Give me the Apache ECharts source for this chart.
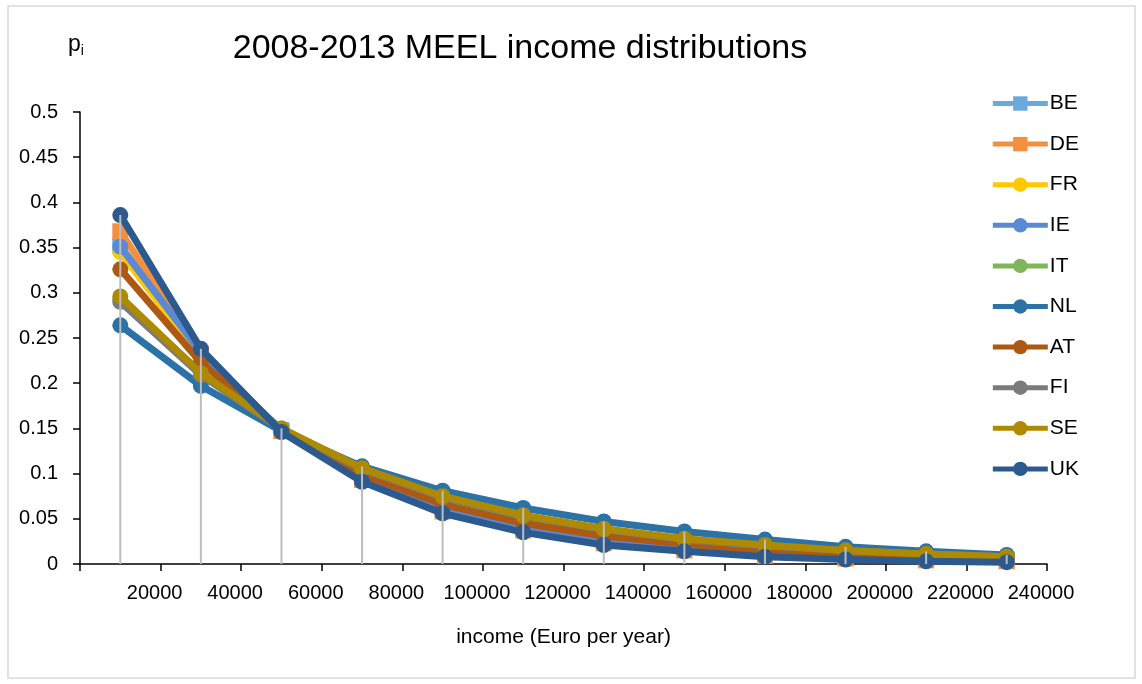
<!DOCTYPE html>
<html>
<head>
<meta charset="utf-8">
<script src="https://cdn.jsdelivr.net/npm/echarts@6/dist/echarts.min.js"></script>
<style>
  html, body { margin: 0; padding: 0; background: #fff; }
  #main { width: 1142px; height: 684px; }
</style>
</head>
<body>
<div id="main"></div>
<script>
// income class midpoints (Euro per year)
var incomes = [10000, 30000, 50000, 70000, 90000, 110000, 130000, 150000, 170000, 190000, 210000, 230000];

var countries = ['BE', 'DE', 'FR', 'IE', 'IT', 'NL', 'AT', 'FI', 'SE', 'UK'];
var colors = ['#6aa9dc', '#f39040', '#ffc800', '#5a8ad4', '#80b65a', '#2b72a6', '#ad5913', '#7b7b7b', '#ae8a00', '#2d5a8e'];
var symbols = ['rect', 'rect', 'circle', 'circle', 'circle', 'circle', 'circle', 'circle', 'circle', 'circle'];

var BE = [0.352, 0.231, 0.148, 0.095, 0.060, 0.039, 0.025, 0.017, 0.011, 0.008, 0.006, 0.004];
var DE = [0.368, 0.232, 0.147, 0.093, 0.058, 0.037, 0.023, 0.015, 0.009, 0.006, 0.004, 0.003];
var FR = [0.345, 0.228, 0.148, 0.096, 0.062, 0.040, 0.027, 0.018, 0.012, 0.008, 0.006, 0.004];
var IE = [0.351, 0.234, 0.148, 0.094, 0.059, 0.038, 0.024, 0.016, 0.010, 0.007, 0.005, 0.003];
var IT = [0.293, 0.212, 0.150, 0.104, 0.073, 0.051, 0.037, 0.027, 0.020, 0.014, 0.010, 0.008];
var NL = [0.264, 0.197, 0.147, 0.108, 0.081, 0.062, 0.047, 0.036, 0.027, 0.019, 0.014, 0.010];
var AT = [0.326, 0.223, 0.149, 0.099, 0.066, 0.045, 0.031, 0.022, 0.015, 0.011, 0.008, 0.006];
var FI = [0.290, 0.209, 0.149, 0.105, 0.074, 0.053, 0.038, 0.027, 0.020, 0.015, 0.011, 0.008];
var SE = [0.296, 0.211, 0.150, 0.106, 0.075, 0.054, 0.039, 0.028, 0.021, 0.015, 0.011, 0.008];
var UK = [0.386, 0.238, 0.146, 0.091, 0.056, 0.035, 0.021, 0.014, 0.008, 0.005, 0.003, 0.002];

var values = [BE, DE, FR, IE, IT, NL, AT, FI, SE, UK];

var font = '"Liberation Sans", Arial, sans-serif';

var series = countries.map(function (c, i) {
    return {
        name: c,
        type: 'line',
        data: incomes.map(function (x, k) { return [x, values[i][k]]; }),
        symbol: symbols[i],
        symbolSize: 16,
        color: colors[i],
        lineStyle: { width: 7, color: colors[i] },
        itemStyle: { color: colors[i] },
        z: 2 + i
    };
});

// drop lines from the highest point of each class down to the axis
var dropTops = incomes.map(function (x, k) {
    var m = 0;
    values.forEach(function (v) { if (v[k] > m) m = v[k]; });
    return [x, m];
});
series.push({
    name: 'drop',
    type: 'bar',
    data: dropTops,
    barWidth: 2,
    itemStyle: { color: '#bdbdbd' },
    silent: true,
    z: 20
});

var myChart = echarts.init(document.getElementById('main'));
var option = {
    animation: false,
    backgroundColor: '#fff',
    textStyle: { fontFamily: font },
    title: [
        {
            text: '2008-2013 MEEL income distributions',
            left: 515, top: 27, textAlign: 'center',
            textStyle: { fontFamily: font, fontSize: 34, fontWeight: 'normal', color: '#000' }
        },
        {
            text: 'p{s|i}',
            left: 63, top: 27,
            textStyle: {
                fontFamily: font, fontSize: 23, fontWeight: 'normal', color: '#000',
                rich: { s: { fontSize: 14, verticalAlign: 'bottom', padding: [12, 0, 0, 0], color: '#000' } }
            }
        }
    ],
    legend: {
        orient: 'vertical',
        right: 58, top: 88,
        data: countries,
        itemWidth: 55, itemHeight: 18,
        itemGap: 19.6,
        lineStyle: { width: 5 },
        textStyle: { fontFamily: font, fontSize: 21, color: '#000', padding: [0, 0, 0, -3] }
    },
    grid: { left: 80, right: 95, top: 112, bottom: 120, containLabel: false },
    xAxis: {
        type: 'value',
        min: 0, max: 240000, interval: 20000,
        name: 'income (Euro per year)',
        nameLocation: 'middle', nameGap: 63,
        nameTextStyle: { fontFamily: font, fontSize: 21, color: '#000' },
        axisLine: { onZero: false, lineStyle: { color: '#000', width: 1.5 } },
        axisTick: { show: true, length: 7, lineStyle: { color: '#000', width: 1.5 } },
        axisLabel: {
            fontFamily: font, fontSize: 20, color: '#000', margin: 19,
            padding: [0, 12, 0, 0],
            formatter: function (v) { return v === 0 ? '' : String(v); }
        },
        splitLine: { show: false }
    },
    yAxis: {
        type: 'value',
        min: 0, max: 0.5, interval: 0.05,
        axisLine: { show: true, lineStyle: { color: '#000', width: 1.5 } },
        axisTick: { show: true, length: 7, lineStyle: { color: '#000', width: 1.5 } },
        axisLabel: {
            fontFamily: font, fontSize: 20, color: '#000', margin: 22,
            formatter: function (v) { return String(Math.round(v * 100) / 100); }
        },
        splitLine: { show: false }
    },
    graphic: [{
        type: 'rect',
        shape: { x: 8, y: 6, width: 1127, height: 672 },
        style: { fill: 'none', stroke: '#d9d9d9', lineWidth: 1.5 },
        silent: true, z: -1
    }],
    series: series
};
myChart.setOption(option);
</script>
</body>
</html>
